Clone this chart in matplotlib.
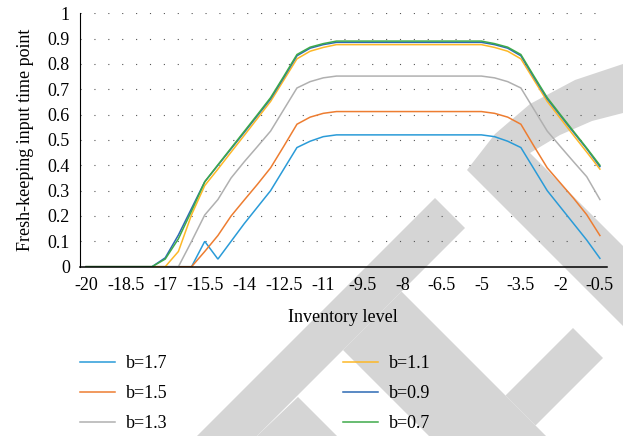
import matplotlib
matplotlib.use("Agg")
import matplotlib.pyplot as plt
from matplotlib.patches import Polygon

# Inventory levels (x categories) and fresh-keeping input time point for each b
inventory = [-20 + 0.5 * i for i in range(40)]

b17 = [0, 0, 0, 0, 0, 0, 0, 0, 0, 0.10, 0.03, 0.10, 0.17, 0.235, 0.30, 0.385, 0.47, 0.495, 0.513,
       0.52, 0.52, 0.52, 0.52, 0.52, 0.52, 0.52, 0.52, 0.52, 0.52, 0.52, 0.52,
       0.513, 0.495, 0.47, 0.385, 0.30, 0.235, 0.17, 0.105, 0.033]
b15 = [0, 0, 0, 0, 0, 0, 0, 0, 0, 0.06, 0.123, 0.20, 0.263, 0.325, 0.39, 0.475, 0.562, 0.59, 0.605,
       0.612, 0.612, 0.612, 0.612, 0.612, 0.612, 0.612, 0.612, 0.612, 0.612, 0.612, 0.612,
       0.605, 0.59, 0.562, 0.475, 0.39, 0.33, 0.27, 0.205, 0.123]
b13 = [0, 0, 0, 0, 0, 0, 0, 0, 0.10, 0.204, 0.265, 0.35, 0.414, 0.474, 0.535, 0.62, 0.705, 0.73, 0.745,
       0.752, 0.752, 0.752, 0.752, 0.752, 0.752, 0.752, 0.752, 0.752, 0.752, 0.752, 0.752,
       0.745, 0.73, 0.705, 0.62, 0.535, 0.474, 0.414, 0.355, 0.265]
b11 = [0, 0, 0, 0, 0, 0, 0, 0.06, 0.205, 0.32, 0.385, 0.452, 0.518, 0.585, 0.652, 0.736, 0.82, 0.85, 0.865,
       0.876, 0.876, 0.876, 0.876, 0.876, 0.876, 0.876, 0.876, 0.876, 0.876, 0.876, 0.876,
       0.865, 0.85, 0.82, 0.736, 0.652, 0.585, 0.518, 0.452, 0.385]
b09 = [0, 0, 0, 0, 0, 0, 0.035, 0.125, 0.23, 0.335, 0.40, 0.465, 0.53, 0.596, 0.662, 0.746, 0.832, 0.862, 0.876,
       0.885, 0.885, 0.885, 0.885, 0.885, 0.885, 0.885, 0.885, 0.885, 0.885, 0.885, 0.885,
       0.876, 0.862, 0.832, 0.746, 0.662, 0.596, 0.53, 0.465, 0.395]
b07 = [0, 0, 0, 0, 0, 0, 0.03, 0.11, 0.22, 0.335, 0.402, 0.468, 0.534, 0.60, 0.667, 0.751, 0.837, 0.866, 0.88,
       0.89, 0.89, 0.89, 0.89, 0.89, 0.89, 0.89, 0.89, 0.89, 0.89, 0.89, 0.89,
       0.88, 0.866, 0.837, 0.751, 0.667, 0.60, 0.534, 0.468, 0.40]

series = [("b=1.7", b17, "#2A9BD8"),
          ("b=1.5", b15, "#ED7D31"),
          ("b=1.3", b13, "#B0B0B0"),
          ("b=1.1", b11, "#FDB827"),
          ("b=0.9", b09, "#2C6AB4"),
          ("b=0.7", b07, "#3EAA4A")]

x_ticks = [-20 + 1.5 * i for i in range(14)]
y_ticks = [i / 10 for i in range(11)]
y_tick_labels = ["0"] + [f"{v:.1f}" for v in y_ticks[1:-1]] + ["1"]

plt.rcParams["font.family"] = ["Liberation Serif", "DejaVu Serif"]
W, H = 623, 436
fig = plt.figure(figsize=(W / 100, H / 100), dpi=100)


def px(pts):
    return [(x / W, 1 - y / H) for x, y in pts]


# light grey background emblem
grey = "#D5D5D5"
shapes = [
    [(435, 198), (465, 228), (257, 436), (197, 436)],
    [(343, 350), (401.5, 291.5), (546, 436), (429, 436)],
    [(298, 397), (337, 436), (257, 436)],
    [(505.5, 395.5), (573, 328), (603, 358), (535.5, 425.5)],
    [(467, 170), (495, 134), (530, 104), (575, 80), (623, 64), (623, 113),
     (592, 121), (560, 135), (530, 153), (623, 246), (623, 326)],
]
for s in shapes:
    fig.add_artist(Polygon(px(s), closed=True, facecolor=grey, edgecolor="none",
                           transform=fig.transFigure, zorder=-1))

left, right, top, bottom = 79.6, 606.5, 13.2, 266.7
ax = fig.add_axes([left / W, 1 - bottom / H, (right - left) / W, (bottom - top) / H])
ax.set_facecolor("none")

for label, vals, color in series:
    ax.plot(inventory, vals, color=color, lw=1.1, label=label, solid_joinstyle="miter")

ax.set_xlim(-20.25, -0.25)
ax.set_ylim(0, 1)
ax.set_xticks(x_ticks)
ax.set_xticklabels([f"{v:g}" for v in x_ticks])
ax.set_yticks(y_ticks)
ax.set_yticklabels(y_tick_labels)
ax.tick_params(axis="both", length=0, labelsize=13)
ax.tick_params(axis="x", pad=7.5)
ax.tick_params(axis="y", pad=7)

for v in y_ticks[1:]:
    ax.axhline(v, color="#555555", lw=0.8, linestyle=(0, (1, 11.5)), zorder=0.5)

for side in ("top", "right"):
    ax.spines[side].set_visible(False)
ax.spines["left"].set_linewidth(0.8)
ax.spines["bottom"].set_linewidth(1.1)

ax.set_xlabel("Inventory level", fontsize=13)
ax.set_ylabel("Fresh-keeping input time point", fontsize=13)
ax.xaxis.set_label_coords(0.5, (bottom - 309) / (bottom - top))
ax.yaxis.set_label_coords((34 - left) / (right - left), 0.5)

fig.legend(loc="upper left", bbox_to_anchor=(80 / W, 1 - 355 / H), ncol=2, frameon=False,
           fontsize=13, handlelength=1.94, handletextpad=0.61, columnspacing=9.7,
           labelspacing=0.72, borderpad=0, borderaxespad=0)

fig.savefig("out.png", dpi=100)
